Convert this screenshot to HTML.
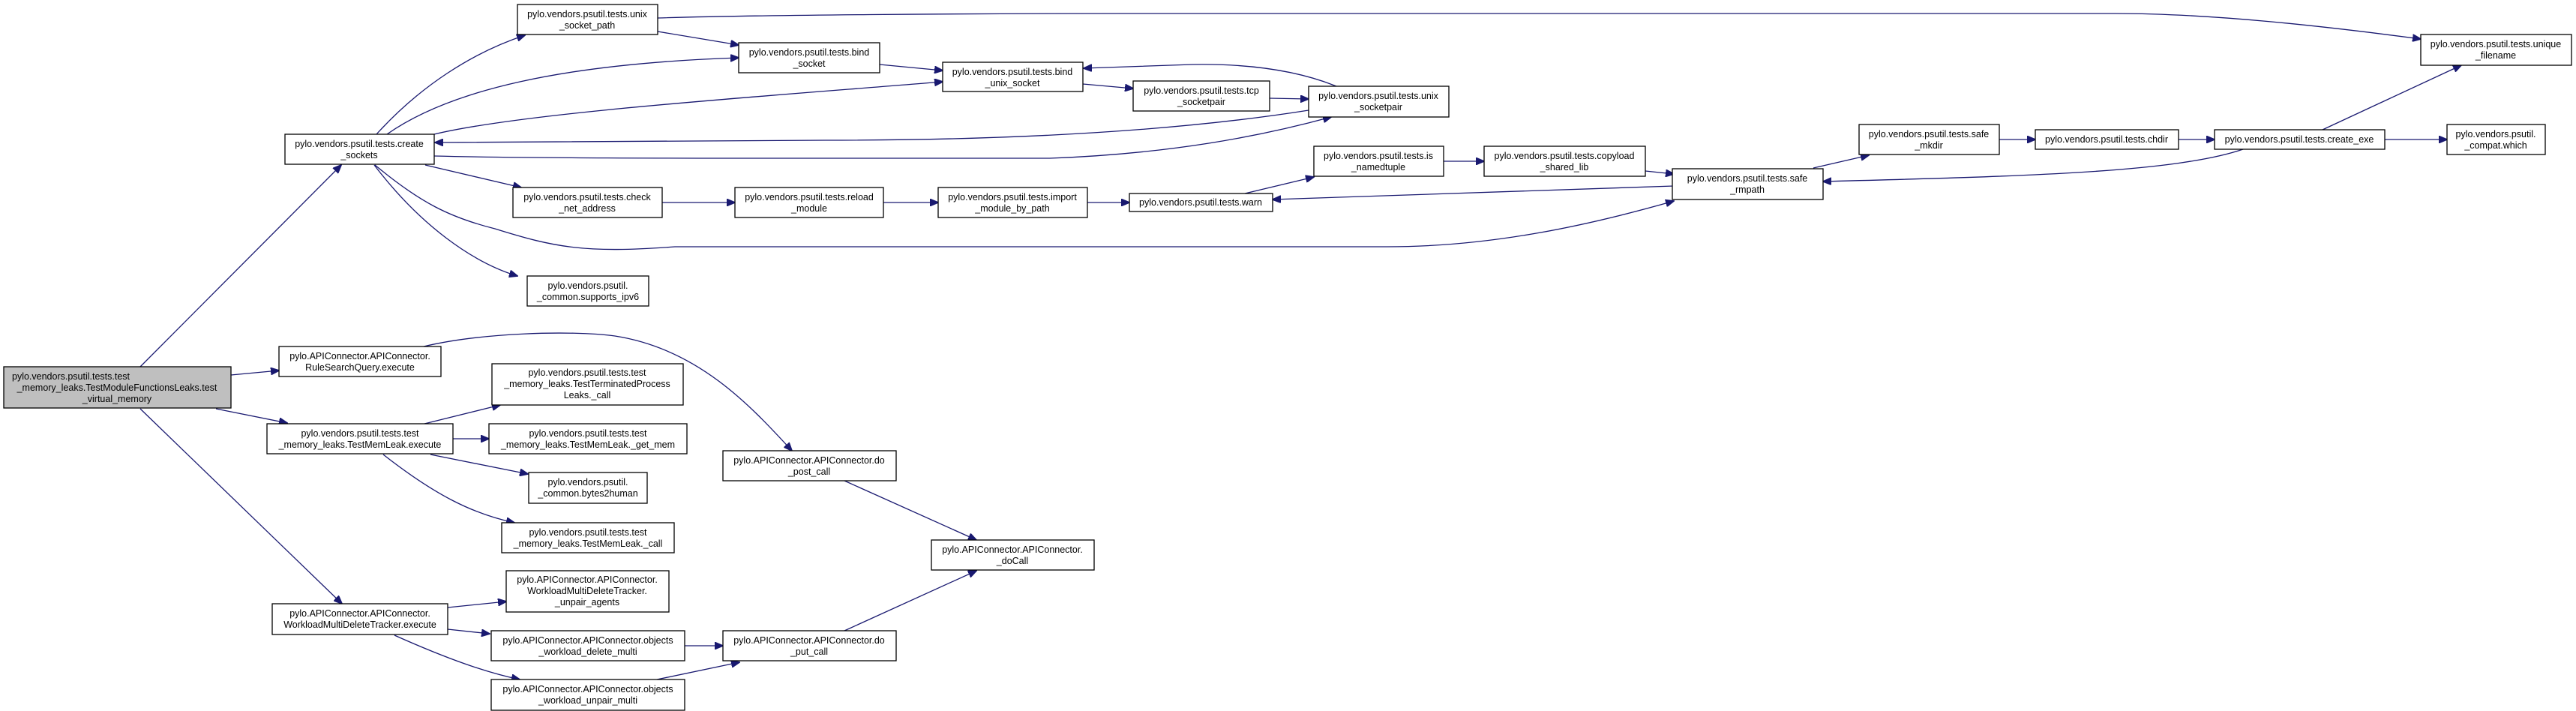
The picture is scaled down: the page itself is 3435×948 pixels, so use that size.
<!DOCTYPE html>
<html><head><meta charset="utf-8"><style>
html,body{margin:0;padding:0;background:#fff;}
svg{display:block;}
text{font-family:"Liberation Sans",sans-serif;font-size:12.5px;fill:#000;text-anchor:middle;}
.b{fill:#fff;stroke:#000;stroke-width:1.3;}
.e{fill:none;stroke:#191970;stroke-width:1.3;}
</style></head><body>
<svg width="3435" height="948" viewBox="0 0 3435 948" xmlns="http://www.w3.org/2000/svg">
<defs><marker id="a" markerUnits="userSpaceOnUse" markerWidth="12" markerHeight="10" refX="11" refY="5" orient="auto"><path d="M0,0 L12,5 L0,10 z" fill="#191970" stroke="#191970"/></marker></defs>
<g class="e" marker-end="url(#a)">
<path d="M187,489 L455,220"/>
<path d="M308,500 L372,494"/>
<path d="M288,545 L383,564"/>
<path d="M187,545 L456,805"/>
<path d="M502,179 C560,115 630,70 700,47"/>
<path d="M516,179 C600,120 750,85 985,77"/>
<path d="M579,179 C700,150 1000,130 1257,109"/>
<path d="M1745,147 C1600,170 1400,187 1100,187 L580,190"/>
<path d="M579,208 C700,211 900,211 1100,211 L1400,211 C1560,205 1680,182 1775,156"/>
<path d="M567,220 L695,250"/>
<path d="M500,220 C560,270 600,290 660,305 C740,330 780,338 900,329 L1850,329 C1990,329 2120,300 2232,268"/>
<path d="M499,220 C560,300 630,350 690,368"/>
<path d="M877,42 L985,60"/>
<path d="M877,24 C1000,20 1300,18 1500,18 L2820,18 C2950,18 3100,35 3228,52"/>
<path d="M1173,86 L1257,94"/>
<path d="M1444,112 L1511,118"/>
<path d="M1693,131 L1745,132"/>
<path d="M1782,115 C1720,90 1650,85 1590,86 L1445,91"/>
<path d="M883,270 L980,270"/>
<path d="M1178,270 L1251,270"/>
<path d="M1450,270 L1506,270"/>
<path d="M1660,258 L1752,236"/>
<path d="M1925,215 L1979,215"/>
<path d="M2194,228 L2232,232"/>
<path d="M2232,248 L1697,266"/>
<path d="M2418,224 L2492,207"/>
<path d="M2666,186 L2714,186"/>
<path d="M2905,186 L2953,186"/>
<path d="M3180,186 L3263,186"/>
<path d="M3097,173 L3282,87"/>
<path d="M2991,199 C2900,230 2700,235 2431,242"/>
<path d="M565,462 C640,444 760,440 820,448 C930,465 1000,540 1056,601"/>
<path d="M1126,641 L1302,720"/>
<path d="M1126,841 L1302,761"/>
<path d="M566,565 L667,540"/>
<path d="M604,585 L652,585"/>
<path d="M574,606 L704,632"/>
<path d="M511,606 C580,660 630,685 686,697"/>
<path d="M597,810 L675,802"/>
<path d="M597,839 L653,845"/>
<path d="M526,847 C600,880 650,897 693,906"/>
<path d="M913,861 L964,861"/>
<path d="M876,906 L986,883"/>
</g>
<g>
<rect x="5" y="489" width="303" height="55" fill="#bfbfbf" stroke="#000" stroke-width="1.3"/>
<text x="156" y="506" style="text-anchor:start" transform="translate(-140,0)">pylo.vendors.psutil.tests.test</text>
<text x="156" y="521">_memory_leaks.TestModuleFunctionsLeaks.test</text>
<text x="156" y="536">_virtual_memory</text>

<rect class="b" x="380" y="179" width="199" height="40"/><text x="479" y="196">pylo.vendors.psutil.tests.create</text><text x="479" y="211">_sockets</text>
<rect class="b" x="690" y="6" width="187" height="40"/><text x="783" y="23">pylo.vendors.psutil.tests.unix</text><text x="783" y="38">_socket_path</text>
<rect class="b" x="985" y="57" width="188" height="40"/><text x="1079" y="74">pylo.vendors.psutil.tests.bind</text><text x="1079" y="89">_socket</text>
<rect class="b" x="684" y="250" width="199" height="40"/><text x="783" y="267">pylo.vendors.psutil.tests.check</text><text x="783" y="282">_net_address</text>
<rect class="b" x="703" y="368" width="162" height="40"/><text x="784" y="385">pylo.vendors.psutil.</text><text x="784" y="400">_common.supports_ipv6</text>
<rect class="b" x="372" y="462" width="216" height="40"/><text x="480" y="479">pylo.APIConnector.APIConnector.</text><text x="480" y="494">RuleSearchQuery.execute</text>
<rect class="b" x="356" y="565" width="248" height="40"/><text x="480" y="582">pylo.vendors.psutil.tests.test</text><text x="480" y="597">_memory_leaks.TestMemLeak.execute</text>
<rect class="b" x="656" y="485" width="255" height="55"/><text x="783" y="501">pylo.vendors.psutil.tests.test</text><text x="783" y="516">_memory_leaks.TestTerminatedProcess</text><text x="783" y="531">Leaks._call</text>
<rect class="b" x="652" y="565" width="264" height="40"/><text x="784" y="582">pylo.vendors.psutil.tests.test</text><text x="784" y="597">_memory_leaks.TestMemLeak._get_mem</text>
<rect class="b" x="705" y="630" width="158" height="41"/><text x="784" y="647">pylo.vendors.psutil.</text><text x="784" y="662">_common.bytes2human</text>
<rect class="b" x="669" y="697" width="230" height="40"/><text x="784" y="714">pylo.vendors.psutil.tests.test</text><text x="784" y="729">_memory_leaks.TestMemLeak._call</text>
<rect class="b" x="363" y="805" width="234" height="41"/><text x="480" y="822">pylo.APIConnector.APIConnector.</text><text x="480" y="837">WorkloadMultiDeleteTracker.execute</text>
<rect class="b" x="675" y="761" width="217" height="55"/><text x="783" y="777">pylo.APIConnector.APIConnector.</text><text x="783" y="792">WorkloadMultiDeleteTracker.</text><text x="783" y="807">_unpair_agents</text>
<rect class="b" x="655" y="841" width="258" height="40"/><text x="784" y="858">pylo.APIConnector.APIConnector.objects</text><text x="784" y="873">_workload_delete_multi</text>
<rect class="b" x="655" y="906" width="258" height="41"/><text x="784" y="923">pylo.APIConnector.APIConnector.objects</text><text x="784" y="938">_workload_unpair_multi</text>
<rect class="b" x="964" y="601" width="231" height="40"/><text x="1079" y="618">pylo.APIConnector.APIConnector.do</text><text x="1079" y="633">_post_call</text>
<rect class="b" x="964" y="841" width="231" height="40"/><text x="1079" y="858">pylo.APIConnector.APIConnector.do</text><text x="1079" y="873">_put_call</text>
<rect class="b" x="980" y="250" width="198" height="40"/><text x="1079" y="267">pylo.vendors.psutil.tests.reload</text><text x="1079" y="282">_module</text>
<rect class="b" x="1257" y="83" width="187" height="39"/><text x="1350" y="100">pylo.vendors.psutil.tests.bind</text><text x="1350" y="115">_unix_socket</text>
<rect class="b" x="1511" y="108" width="182" height="40"/><text x="1602" y="125">pylo.vendors.psutil.tests.tcp</text><text x="1602" y="140">_socketpair</text>
<rect class="b" x="1745" y="115" width="187" height="41"/><text x="1838" y="132">pylo.vendors.psutil.tests.unix</text><text x="1838" y="147">_socketpair</text>
<rect class="b" x="1251" y="250" width="199" height="40"/><text x="1350" y="267">pylo.vendors.psutil.tests.import</text><text x="1350" y="282">_module_by_path</text>
<rect class="b" x="1506" y="258" width="191" height="24"/><text x="1601" y="274">pylo.vendors.psutil.tests.warn</text>
<rect class="b" x="1752" y="195" width="173" height="40"/><text x="1838" y="212">pylo.vendors.psutil.tests.is</text><text x="1838" y="227">_namedtuple</text>
<rect class="b" x="1979" y="195" width="215" height="40"/><text x="2086" y="212">pylo.vendors.psutil.tests.copyload</text><text x="2086" y="227">_shared_lib</text>
<rect class="b" x="1242" y="720" width="217" height="40"/><text x="1350" y="737">pylo.APIConnector.APIConnector.</text><text x="1350" y="752">_doCall</text>
<rect class="b" x="2230" y="225" width="201" height="41"/><text x="2330" y="242">pylo.vendors.psutil.tests.safe</text><text x="2330" y="257">_rmpath</text>
<rect class="b" x="2479" y="166" width="187" height="40"/><text x="2572" y="183">pylo.vendors.psutil.tests.safe</text><text x="2572" y="198">_mkdir</text>
<rect class="b" x="2714" y="173" width="191" height="26"/><text x="2809" y="190">pylo.vendors.psutil.tests.chdir</text>
<rect class="b" x="2953" y="173" width="227" height="26"/><text x="3066" y="190">pylo.vendors.psutil.tests.create_exe</text>
<rect class="b" x="3263" y="166" width="131" height="40"/><text x="3328" y="183">pylo.vendors.psutil.</text><text x="3328" y="198">_compat.which</text>
<rect class="b" x="3228" y="46" width="201" height="41"/><text x="3328" y="63">pylo.vendors.psutil.tests.unique</text><text x="3328" y="78">_filename</text>
</g>
</svg>
</body></html>
